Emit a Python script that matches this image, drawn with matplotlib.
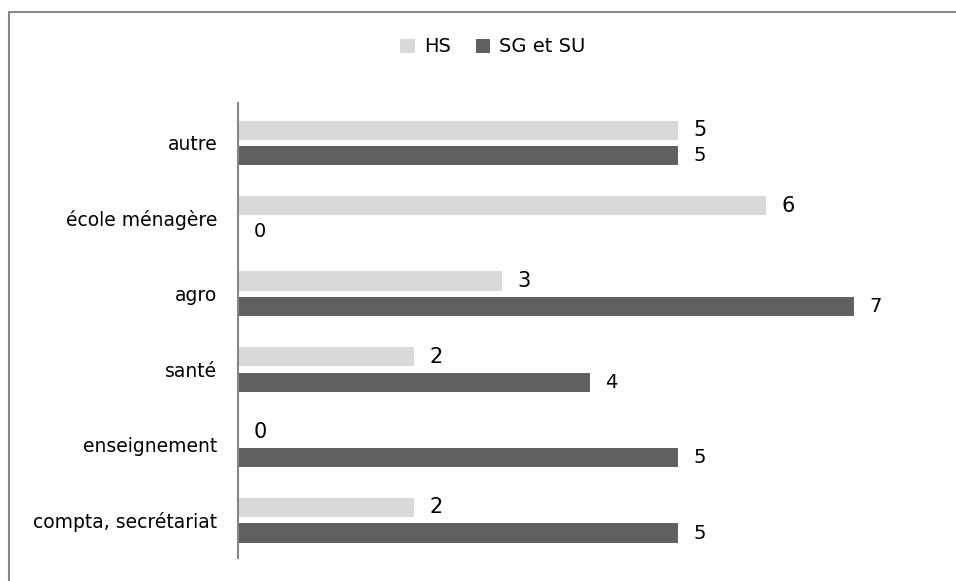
import matplotlib.pyplot as plt
from matplotlib.patches import Rectangle
import numpy as np

categories = ['compta, secrétariat', 'enseignement', 'santé', 'agro', 'école ménagère', 'autre']
hs_values = [2, 0, 2, 3, 6, 5]
sg_values = [5, 5, 4, 7, 0, 5]
series_names = ['HS', 'SG et SU']

HS_COLOR = '#d9d9d9'
SG_COLOR = '#606060'

fig = plt.figure(figsize=(9.56, 5.81), dpi=100)
ax = fig.add_axes([238 / 956, 1 - 558 / 581, 704 / 956, 455 / 581])

y = np.arange(len(categories))
offset = 0.17
height = 0.255

ax.barh(y + offset, hs_values, height=height, color=HS_COLOR, label=series_names[0])
ax.barh(y - offset, sg_values, height=height, color=SG_COLOR, label=series_names[1])

for yi, v in zip(y, hs_values):
  ax.annotate(str(v), (v, yi + offset), xytext=(11, 0), textcoords='offset points',
              va='center', ha='left', fontsize=15, color='black')
for yi, v in zip(y, sg_values):
  ax.annotate(str(v), (v, yi - offset), xytext=(11, 0), textcoords='offset points',
              va='center', ha='left', fontsize=14, color='black')

ax.set_xlim(0, 8)
ax.set_ylim(-0.5, 5.53)
ax.set_yticks(y)
ax.set_yticklabels(categories, fontsize=13.5)
ax.set_xticks([])
ax.tick_params(axis='y', length=0, pad=15)
for side in ['top', 'right', 'bottom']:
  ax.spines[side].set_visible(False)
ax.spines['left'].set_color('#868686')
ax.spines['left'].set_linewidth(1.5)

fig.legend(loc='center', bbox_to_anchor=(493 / 956, 1 - 47 / 581), ncol=2, frameon=False,
           fontsize=14, handlelength=0.75, handleheight=0.75, handletextpad=0.45, columnspacing=1.3)

fig.patches.append(Rectangle((9 / 956, -0.1), 1.2, 1 - 12 / 581 + 0.1, transform=fig.transFigure,
                             fill=False, edgecolor='#898989', linewidth=1.5))

fig.savefig('out.png', dpi=100)
